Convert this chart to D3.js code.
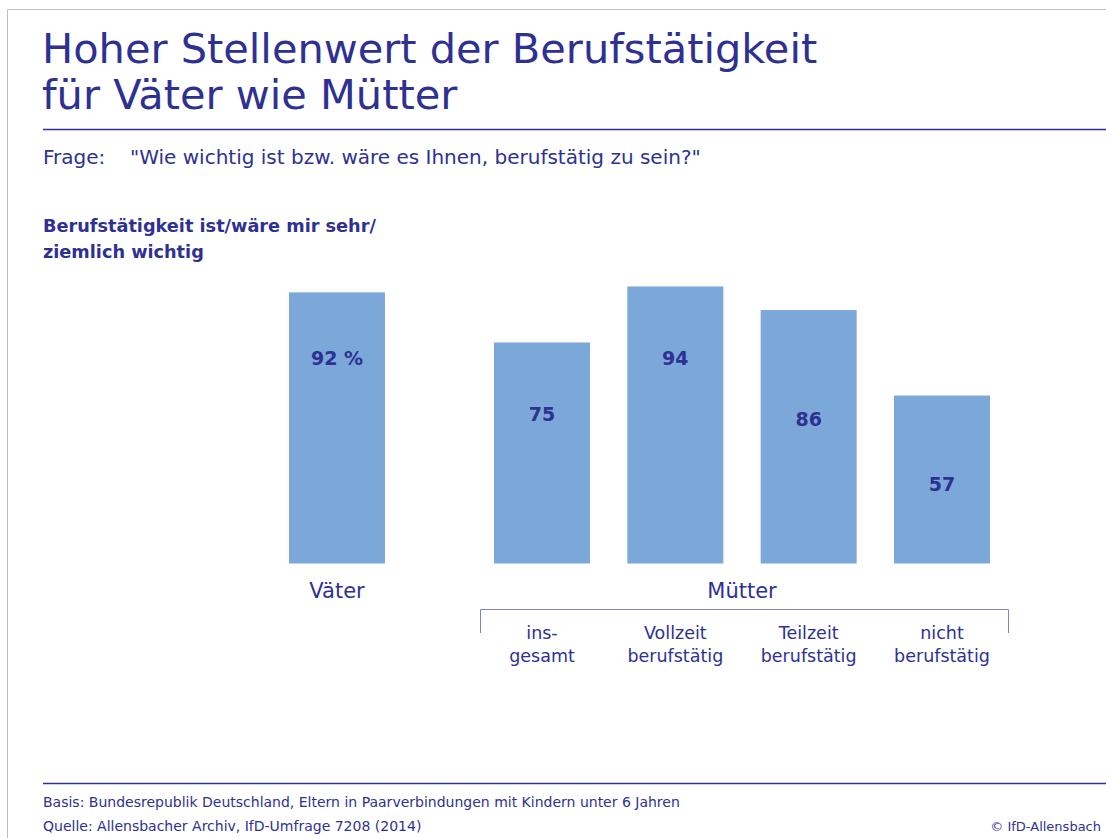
<!DOCTYPE html>
<html>
<head>
<meta charset="utf-8">
<script src="https://cdn.jsdelivr.net/npm/d3@7"></script>
<style>
  body { margin: 0; background: #fff; }
  svg { display: block; font-family: "DejaVu Sans", sans-serif; }
  .ink { fill: #2e3192; }
</style>
</head>
<body>
<div id="chart"></div>
<script>
// data
var titleLines = ["Hoher Stellenwert der Berufstätigkeit", "für Väter wie Mütter"];
var question = "\"Wie wichtig ist bzw. wäre es Ihnen, berufstätig zu sein?\"";
var subtitleLines = ["Berufstätigkeit ist/wäre mir sehr/", "ziemlich wichtig"];
var fatherCategories = ["Väter"];
var fatherValues = [92];
var motherCategories = ["ins-|gesamt", "Vollzeit|berufstätig", "Teilzeit|berufstätig", "nicht|berufstätig"];
var motherValues = [75, 94, 86, 57];
var groupLabels = ["Väter", "Mütter"];
var footerLines = [
  "Basis: Bundesrepublik Deutschland, Eltern in Paarverbindungen mit Kindern unter 6 Jahren",
  "Quelle: Allensbacher Archiv, IfD-Umfrage 7208 (2014)"
];
var copyright = "© IfD-Allensbach";

var width = 1106,
    height = 838,
    ink = "#2e3192",
    barColor = "#7ba7d9";

var svg = d3.select("#chart").append("svg")
    .attr("width", width)
    .attr("height", height);

// frame
svg.append("path")
    .attr("d", "M7.5," + height + "V9.5H" + width)
    .attr("fill", "none")
    .attr("stroke", "#bdbdbd")
    .attr("stroke-width", 1);

// title
svg.append("text")
    .attr("class", "ink")
    .attr("font-size", 41.5)
    .selectAll("tspan")
    .data(titleLines)
    .enter().append("tspan")
    .attr("x", 42)
    .attr("y", function(d, i) { return 63 + i * 46; })
    .text(function(d) { return d; });

svg.append("line")
    .attr("x1", 43).attr("x2", width)
    .attr("y1", 129.5).attr("y2", 129.5)
    .attr("stroke", ink).attr("stroke-width", 1.5);

svg.append("text").attr("class", "ink")
    .attr("x", 43).attr("y", 164)
    .attr("font-size", 20)
    .text("Frage:");
svg.append("text").attr("class", "ink")
    .attr("x", 130).attr("y", 164)
    .attr("font-size", 20)
    .text(question);

svg.append("text")
    .attr("class", "ink")
    .attr("font-size", 17.7)
    .attr("font-weight", "bold")
    .selectAll("tspan")
    .data(subtitleLines)
    .enter().append("tspan")
    .attr("x", 43)
    .attr("y", function(d, i) { return 232 + i * 26; })
    .text(function(d) { return d; });

// scales
var baseY = 563.5;
var y = d3.scaleLinear().domain([0, 100]).range([baseY, baseY - 294.7]);

var xF = d3.scaleBand().domain(fatherCategories).range([289, 385]);
var xM = d3.scaleBand().domain(motherCategories).range([494, 990]).paddingInner(0.28).paddingOuter(0);

var bars = fatherCategories.map(function(c, i) {
  return { key: c, value: fatherValues[i], x: xF(c), w: xF.bandwidth(), label: fatherValues[i] + " %" };
}).concat(motherCategories.map(function(c, i) {
  return { key: c, value: motherValues[i], x: xM(c), w: xM.bandwidth(), label: String(motherValues[i]) };
}));

// label placement below the bar top, in px (as in the original layout)
var labelDrop = [65, 71, 71, 108, 87];

svg.selectAll(".bar")
    .data(bars)
    .enter().append("rect")
    .attr("class", "bar")
    .attr("x", function(d) { return d.x; })
    .attr("y", function(d) { return y(d.value); })
    .attr("width", function(d) { return d.w; })
    .attr("height", function(d) { return baseY - y(d.value); })
    .attr("fill", barColor);

svg.selectAll(".val")
    .data(bars)
    .enter().append("text")
    .attr("class", "val ink")
    .attr("x", function(d) { return d.x + d.w / 2; })
    .attr("y", function(d, i) { return y(d.value) + labelDrop[i] + 8; })
    .attr("text-anchor", "middle")
    .attr("font-size", 19)
    .attr("font-weight", "bold")
    .text(function(d) { return d.label; });

// group labels
var groupCenters = [xF(fatherCategories[0]) + xF.bandwidth() / 2, (xM.range()[0] + xM.range()[1]) / 2];
svg.selectAll(".group")
    .data(groupLabels)
    .enter().append("text")
    .attr("class", "group ink")
    .attr("x", function(d, i) { return groupCenters[i]; })
    .attr("y", 598)
    .attr("text-anchor", "middle")
    .attr("font-size", 21)
    .text(function(d) { return d; });

// bracket under Mütter
svg.append("path")
    .attr("d", "M480.5,633V609.5H1008.5V633")
    .attr("fill", "none")
    .attr("stroke", "#7f83bf")
    .attr("stroke-width", 1);

var sub = svg.selectAll(".sub")
    .data(motherCategories)
    .enter().append("text")
    .attr("class", "sub ink")
    .attr("text-anchor", "middle")
    .attr("font-size", 17.5);
sub.selectAll("tspan")
    .data(function(d) { return d.split("|").map(function(t) { return { t: t, c: d }; }); })
    .enter().append("tspan")
    .attr("x", function(d) { return xM(d.c) + xM.bandwidth() / 2; })
    .attr("y", function(d, i) { return 639 + i * 23; })
    .text(function(d) { return d.t; });

// footer
svg.append("line")
    .attr("x1", 43).attr("x2", width)
    .attr("y1", 783.5).attr("y2", 783.5)
    .attr("stroke", ink).attr("stroke-width", 1.5);

svg.selectAll(".foot")
    .data(footerLines)
    .enter().append("text")
    .attr("class", "foot ink")
    .attr("x", 43)
    .attr("y", function(d, i) { return 807 + i * 24; })
    .attr("font-size", 14)
    .text(function(d) { return d; });

svg.append("text").attr("class", "ink")
    .attr("x", 1101).attr("y", 831)
    .attr("text-anchor", "end")
    .attr("font-size", 13)
    .text(copyright);
</script>
</body>
</html>
